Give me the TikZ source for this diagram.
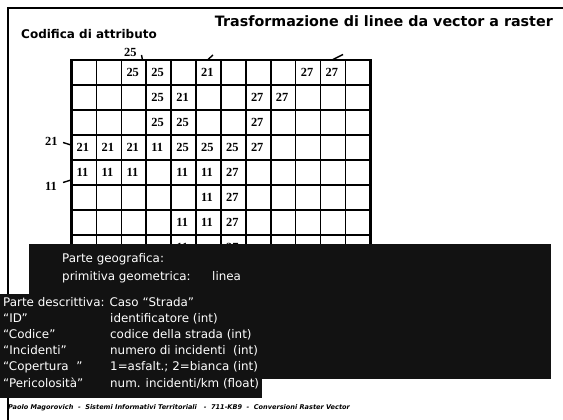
\documentclass[tikz,border=0pt]{standalone}
\usepackage{fontspec}
\setmainfont{DejaVu Sans}
\newfontfamily\numfont{Liberation Serif}
\begin{document}
\begin{tikzpicture}[x=1pt,y=-1pt,
  txt/.style={inner sep=0pt,anchor=base west},
  wtxt/.style={txt,text=white,font=\fontsize{11.9}{15}\selectfont},
  num/.style={txt,font=\numfont\bfseries\fontsize{12.4}{14}\selectfont},
  gridline/.style={line width=1.6pt},
  tick/.style={line width=1.4pt},
  panel/.style={fill=black!93,draw=none}]
\useasboundingbox (0,0) rectangle (563,420);
\fill[white] (0,0) rectangle (563,420);
% frame
\draw[line width=2pt] (8,420) -- (8,8) -- (563,8);
% titles
\node[txt,anchor=base east,font=\bfseries\fontsize{14.3}{16}\selectfont] (title) at (553,26.5) {Trasformazione di linee da vector a raster};
\node[txt,font=\bfseries\fontsize{12}{14}\selectfont] (cod) at (21,38.5) {Codifica di attributo};
% grid
\foreach \i in {0,...,12} {
  \draw[gridline] ({71.5+24.9*\i},60) -- ({71.5+24.9*\i},290);
}
\foreach \j in {0,...,9} {
  \draw[gridline] (71.5,{60+25*\j}) -- (370.3,{60+25*\j});
}
\draw[line width=2.4pt] (71.5,290) -- (71.5,60) -- (370.3,60) -- (370.3,290);
% cell values
\foreach \r/\c/\v in {1/3/25,1/4/25,1/6/21,1/10/27,1/11/27,
  2/4/25,2/5/21,2/8/27,2/9/27,
  3/4/25,3/5/25,3/8/27,
  4/1/21,4/2/21,4/3/21,4/4/11,4/5/25,4/6/25,4/7/25,4/8/27,
  5/1/11,5/2/11,5/3/11,5/5/11,5/6/11,5/7/27,
  6/6/11,6/7/27,
  7/5/11,7/6/11,7/7/27,
  8/5/11,8/7/27} {
  \node[num] (v-\r-\c) at ({71.5+24.9*(\c-1)+5},{60+25*(\r-1)+16.5}) {\v};
}
% line ends with labels
\node[num] (l25) at (124,56.5) {25};
\coordinate (t1a) at (141.5,55); \coordinate (t1b) at (142.5,60);
\draw[tick] (t1a) -- (t1b);
\coordinate (t2a) at (208,59.5); \coordinate (t2b) at (213,55);
\draw[tick] (t2a) -- (t2b);
\coordinate (t3a) at (333,59.5); \coordinate (t3b) at (343,54.5);
\draw[tick] (t3a) -- (t3b);
\node[num] (l21) at (45,146) {21};
\coordinate (t4a) at (63,142.5); \coordinate (t4b) at (71,145);
\draw[tick] (t4a) -- (t4b);
\node[num] (l11) at (45,190) {11};
\coordinate (t5a) at (63,182.5); \coordinate (t5b) at (71,180);
\draw[tick] (t5a) -- (t5b);
% panels
\fill[panel] (29,244) rectangle (551,294);
\fill[panel] (0,294) rectangle (551,379);
\fill[panel] (0,378) rectangle (262,398);
\node[wtxt] (pg) at (62,262) {Parte geografica:};
\node[wtxt] (pp) at (62,280) {primitiva geometrica:};
\node[wtxt] (pl) at (212,280) {linea};
\node[wtxt] (pd) at (3,306) {Parte descrittiva: Caso “Strada”};
\node[wtxt] (a1) at (3,322) {“ID”};
\node[wtxt] (b1) at (110,322) {identificatore (int)};
\node[wtxt] (a2) at (3,338) {“Codice”};
\node[wtxt] (b2) at (110,338) {codice della strada (int)};
\node[wtxt] (a3) at (3,354) {“Incidenti”};
\node[wtxt] (b3) at (110,354) {numero di incidenti\ \ (int)};
\node[wtxt] (a4) at (3,370) {“Copertura\ \ ”};
\node[wtxt] (b4) at (110,370) {1=asfalt.; 2=bianca (int)};
\node[wtxt] (a5) at (3,387) {“Pericolosità”};
\node[wtxt] (b5) at (110,387) {num. incidenti/km (float)};
% footer
\node[txt,font=\bfseries\itshape\fontsize{6.55}{8}\selectfont] (foot) at (8,409)
  {Paolo Magorovich\ \ -\ \ Sistemi Informativi Territoriali\ \ \ -\ \ 711-KB9\ \ -\ \ Conversioni Raster Vector};
\end{tikzpicture}
\end{document}
